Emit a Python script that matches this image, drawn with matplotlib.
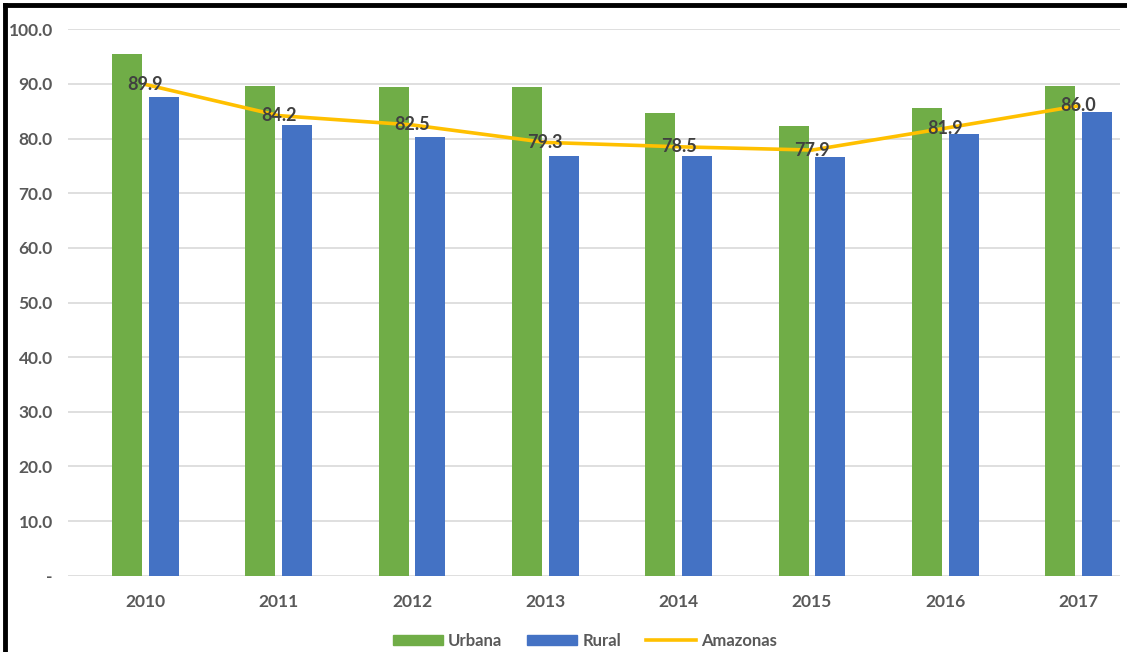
import matplotlib
matplotlib.use("Agg")
import matplotlib.pyplot as plt
from matplotlib.lines import Line2D
import numpy as np

years = ["2010", "2011", "2012", "2013", "2014", "2015", "2016", "2017"]
urbana = [95.5, 89.6, 89.5, 89.5, 84.6, 82.3, 85.6, 89.6]
rural = [87.7, 82.5, 80.3, 76.8, 76.8, 76.6, 80.8, 84.8]
amazonas = [89.9, 84.2, 82.5, 79.3, 78.5, 77.9, 81.9, 86.0]
yticks = [0, 10, 20, 30, 40, 50, 60, 70, 80, 90, 100]
ytick_labels = ["-", "10.0", "20.0", "30.0", "40.0", "50.0", "60.0", "70.0", "80.0", "90.0", "100.0"]

plt.rcParams['font.family'] = ['Lato', 'DejaVu Sans']

fig = plt.figure(figsize=(11.27, 6.52), dpi=100)
ax = fig.add_axes([68/1127, 1-575.7/652, (1120-68)/1127, (575.7-29.3)/652])

x = np.arange(len(years))
bw = 0.225
off = 0.138
ax.bar(x - off, urbana, width=bw, color="#70AD47", label="Urbana", zorder=2)
ax.bar(x + off, rural, width=bw, color="#4472C4", label="Rural", zorder=2)
ax.plot(x, amazonas, color="#FFC000", lw=2.6, label="Amazonas", zorder=3)
for xi, v in zip(x, amazonas):
    ax.text(xi, v, f"{v:.1f}", ha="center", va="center", fontsize=13,
            fontweight="bold", color="#404040", zorder=4)

ax.set_xlim((68-145.5)/133.3, (1120-145.5)/133.3)
ax.set_ylim(0, 100)
ax.set_yticks(yticks)
ax.set_yticklabels(ytick_labels)
ax.set_xticks(x)
ax.set_xticklabels(years)
ax.grid(axis="y", color="#D9D9D9", lw=1.2, zorder=0)
ax.set_axisbelow(True)
for s in ax.spines.values():
    s.set_visible(False)
ax.tick_params(axis="both", length=0, labelsize=12.5, colors="#595959")
ax.tick_params(axis="x", pad=13)
ax.tick_params(axis="y", pad=11)
for lab in ax.get_xticklabels() + ax.get_yticklabels():
    lab.set_fontweight("bold")

handles = [
    plt.Rectangle((0, 0), 1, 1, color="#70AD47"),
    plt.Rectangle((0, 0), 1, 1, color="#4472C4"),
    Line2D([0], [0], color="#FFC000", lw=2.6),
]
leg = fig.legend(handles, ["Urbana", "Rural", "Amazonas"], loc="center",
                 bbox_to_anchor=(585/1127, 1-641/652), ncol=3, frameon=False,
                 fontsize=12, handlelength=3.0, handleheight=0.6,
                 columnspacing=1.5, handletextpad=0.3)
for t in leg.get_texts():
    t.set_color("#595959")
    t.set_fontweight("bold")

fig.add_artist(Line2D([5/1127, 5/1127], [0, 1-5/652], color="black", lw=3.5,
                      transform=fig.transFigure))
fig.add_artist(Line2D([5/1127, 1], [1-5/652, 1-5/652], color="black", lw=3.5,
                      transform=fig.transFigure))

fig.savefig("out.png", dpi=100)
